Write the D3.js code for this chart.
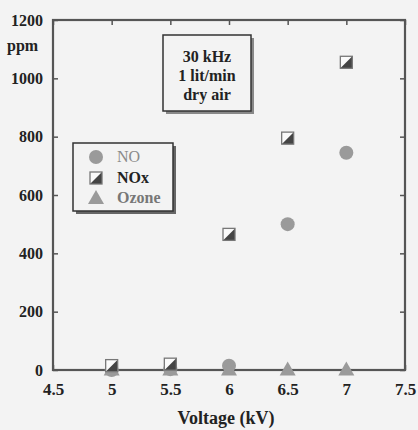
<!DOCTYPE html>
<html><head><meta charset="utf-8">
<script src="https://cdn.jsdelivr.net/npm/d3@7"></script>
<style>body{margin:0;background:#f3f3f3;}svg{display:block;}</style>
</head><body>
<script>
const voltage = [5, 5.5, 6, 6.5, 7];
const noValues = [0, 3, 15, 500, 745];
const noxValues = [15, 20, 465, 795, 1055];
const ozoneValues = [2, 2, 2, 2, 2];
const xTicks = [4.5, 5, 5.5, 6, 6.5, 7, 7.5];
const yTicks = [0, 200, 400, 600, 800, 1000, 1200];
const infoLines = ["30 kHz", "1 lit/min", "dry air"];
const legendLabels = ["NO", "NOx", "Ozone"];

const FONT = "Liberation Serif";
const W = 418, H = 430;
const m = {l: 53, r: 405, t: 20, b: 370};
const svg = d3.select("body").append("svg").attr("width", W).attr("height", H);
svg.append("rect").attr("width", W).attr("height", H).attr("fill", "#f3f3f3");

const x = d3.scaleLinear().domain([4.5, 7.5]).range([m.l, m.r]);
const y = d3.scaleLinear().domain([0, 1200]).range([m.b, m.t]);

const axisColor = "#555";
svg.append("rect").attr("x", m.l).attr("y", m.t).attr("width", m.r - m.l).attr("height", m.b - m.t)
  .attr("fill", "none").attr("stroke", axisColor).attr("stroke-width", 2.2);

const gx = svg.append("g").attr("transform", `translate(0,${m.b})`)
  .call(d3.axisBottom(x).tickValues(xTicks).tickSize(-5).tickPadding(13).tickFormat(d3.format("")));
const gxTop = svg.append("g").attr("transform", `translate(0,${m.t})`)
  .call(d3.axisTop(x).tickValues(xTicks).tickSize(-5).tickFormat(""));
const gy = svg.append("g").attr("transform", `translate(${m.l},0)`)
  .call(d3.axisLeft(y).tickValues(yTicks).tickSize(-5).tickPadding(10).tickFormat(d3.format("d")));
const gyR = svg.append("g").attr("transform", `translate(${m.r},0)`)
  .call(d3.axisRight(y).tickValues(yTicks).tickSize(-5).tickFormat(""));
[gx, gxTop, gy, gyR].forEach(g => {
  g.attr("font-family", FONT);
  g.select(".domain").remove();
  g.selectAll(".tick line").attr("stroke", axisColor).attr("stroke-width", 1.5);
  g.selectAll("text").attr("fill", "#222").attr("font-size", 16).attr("font-weight", "bold");
});
gx.selectAll("text").attr("font-size", 17);

svg.append("text").attr("x", 7).attr("y", 51).text("ppm")
  .attr("font-size", 16).attr("font-weight", "bold").attr("fill", "#222");
svg.append("text").attr("x", 226).attr("y", 424).attr("text-anchor", "middle")
  .text("Voltage (kV)").attr("font-size", 18).attr("font-weight", "bold").attr("fill", "#222");

const ib = svg.append("g");
ib.append("rect").attr("x", 166).attr("y", 38).attr("width", 88).attr("height", 76).attr("fill", "#888");
ib.append("rect").attr("x", 163).attr("y", 35).attr("width", 88).attr("height", 76)
  .attr("fill", "#f3f3f3").attr("stroke", "#333").attr("stroke-width", 1.5);
ib.selectAll("text.info").data(infoLines).join("text").attr("class", "info")
  .attr("x", 207).attr("y", (d, i) => 62 + i * 19).attr("text-anchor", "middle")
  .attr("font-size", 16).attr("font-weight", "bold").attr("fill", "#222").text(d => d);

const gray = "#9a9a9a";
function circle(g, cx, cy) {
  g.append("circle").attr("cx", cx).attr("cy", cy).attr("r", 7).attr("fill", gray);
}
function square(g, cx, cy) {
  const s = 12, x0 = cx - s / 2, y0 = cy - s / 2;
  g.append("rect").attr("x", x0).attr("y", y0).attr("width", s).attr("height", s).attr("fill", "#fafafa");
  g.append("path").attr("d", `M${x0 + s},${y0}L${x0 + s},${y0 + s}L${x0},${y0 + s}Z`).attr("fill", "#444");
  g.append("rect").attr("x", x0).attr("y", y0).attr("width", s).attr("height", s)
    .attr("fill", "none").attr("stroke", "#777").attr("stroke-width", 1.3);
}
function triangle(g, cx, cy) {
  g.append("path").attr("d", `M${cx},${cy - 8}L${cx + 8},${cy + 6}L${cx - 8},${cy + 6}Z`).attr("fill", gray);
}

const marks = svg.append("g");
voltage.forEach((v, i) => circle(marks, x(v), y(noValues[i])));
voltage.forEach((v, i) => triangle(marks, x(v), y(ozoneValues[i])));
voltage.forEach((v, i) => square(marks, x(v), y(noxValues[i])));

const lg = svg.append("g");
lg.append("rect").attr("x", 76).attr("y", 146).attr("width", 100).attr("height", 68).attr("fill", "#666");
lg.append("rect").attr("x", 73).attr("y", 143).attr("width", 100).attr("height", 68)
  .attr("fill", "#f3f3f3").attr("stroke", "#333").attr("stroke-width", 1.5);
const rows = [157, 178, 198];
circle(lg, 96, rows[0]);
square(lg, 96, rows[1]);
triangle(lg, 96, rows[2]);
const lcol = ["#8a8a8a", "#222", "#777"];
lg.selectAll("text.lg").data(legendLabels).join("text").attr("class", "lg")
  .attr("x", 117).attr("y", (d, i) => rows[i] + 5).attr("font-size", 16)
  .attr("font-weight", (d, i) => i === 0 ? "normal" : "bold").attr("fill", (d, i) => lcol[i]).text(d => d);

svg.selectAll("text").attr("font-family", FONT);
</script>
</body></html>
